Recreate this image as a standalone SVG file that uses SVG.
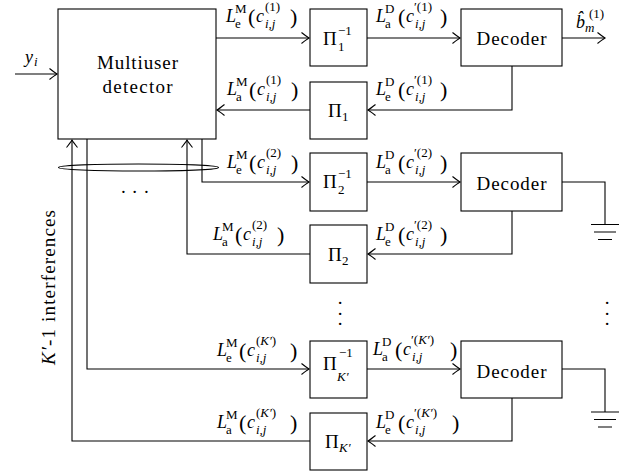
<svg xmlns="http://www.w3.org/2000/svg" width="632" height="471" viewBox="0 0 632 471">
<style>
.box{fill:#fff;stroke:#000;stroke-width:1.1}
.w{fill:none;stroke:#000;stroke-width:1.1}
.a{marker-end:url(#ah)}
.t{font-family:"Liberation Serif","Times New Roman",serif;fill:#000;font-size:18px}
.it{font-style:italic}
.s{font-size:13px}
.p{font-size:22px}
.big{font-size:19px}
.pi{font-size:19px}
</style>
<defs>
<marker id="ah" markerUnits="userSpaceOnUse" viewBox="-9 -7 10 14" markerWidth="10" markerHeight="14" refX="0" refY="0" orient="auto" overflow="visible">
<path d="M-7.5,-5.5 Q-2.5,-1.5 0,0 Q-2.5,1.5 -7.5,5.5" fill="none" stroke="#000" stroke-width="1.1"/>
</marker>
</defs>
<rect width="632" height="471" fill="#fff"/>

<g id="connectors">
<path class="w a" d="M15,74 H57"/>
<path class="w a" d="M216,38 H309"/>
<path class="w a" d="M367,38 H460"/>
<path class="w a" d="M562,38 H605"/>
<path class="w a" d="M512,66 V110 H368"/>
<path class="w a" d="M310,110 H217"/>
<path class="w a" d="M202,139 V182 H309"/>
<path class="w a" d="M367,182 H460"/>
<path class="w" d="M562,182 H605 V224.5"/>
<path class="w a" d="M512,211 V254 H368"/>
<path class="w a" d="M310,254 H187 V140"/>
<path class="w a" d="M87,139 V369 H309"/>
<path class="w a" d="M367,369 H460"/>
<path class="w" d="M562,369 H605 V412"/>
<path class="w a" d="M512,398 V441 H368"/>
<path class="w a" d="M310,441 H72 V140"/>
<ellipse class="w" cx="138.5" cy="167.5" rx="80" ry="3.5"/>
<path class="w" d="M591,224.5 H619 M594,232 H616 M598,239.5 H612"/>
<path class="w" d="M591,412 H619 M594,419.5 H616 M598,427 H612"/>
</g>

<g id="detector">
<rect class="box" x="58" y="9" width="158" height="130"/>
<text class="t big" x="137.5" y="69" text-anchor="middle" textLength="81" lengthAdjust="spacing">Multiuser</text>
<text class="t big" x="137.5" y="93" text-anchor="middle" textLength="70" lengthAdjust="spacing">detector</text>
</g>

<g id="pi1inv">
<rect class="box" x="310" y="9" width="57" height="57"/>
<text class="t"><tspan class="pi" x="323" y="45">Π</tspan><tspan class="s" x="338" y="51">1</tspan><tspan class="s" x="338" y="35">−1</tspan></text>
</g>
<g id="pi1">
<rect class="box" x="310" y="82" width="57" height="57"/>
<text class="t"><tspan class="pi" x="328" y="117">Π</tspan><tspan class="s" x="342" y="121">1</tspan></text>
</g>
<g id="dec1">
<rect class="box" x="461" y="9" width="101" height="57"/>
<text class="t big" x="511.5" y="45" text-anchor="middle" textLength="70" lengthAdjust="spacing">Decoder</text>
</g>

<g id="pi2inv">
<rect class="box" x="310" y="153" width="57" height="58"/>
<text class="t"><tspan class="pi" x="323" y="188">Π</tspan><tspan class="s" x="338" y="194">2</tspan><tspan class="s" x="338" y="178">−1</tspan></text>
</g>
<g id="pi2">
<rect class="box" x="310" y="225" width="57" height="58"/>
<text class="t"><tspan class="pi" x="328" y="261">Π</tspan><tspan class="s" x="342" y="265">2</tspan></text>
</g>
<g id="dec2">
<rect class="box" x="461" y="153" width="101" height="58"/>
<text class="t big" x="511.5" y="190" text-anchor="middle" textLength="70" lengthAdjust="spacing">Decoder</text>
</g>

<g id="piKinv">
<rect class="box" x="310" y="341" width="57" height="57"/>
<text class="t"><tspan class="pi" x="323" y="369.5">Π</tspan><tspan class="s it" x="337" y="381">K′</tspan><tspan class="s" x="339" y="357">−1</tspan></text>
</g>
<g id="piK">
<rect class="box" x="310" y="413" width="57" height="57"/>
<text class="t"><tspan class="pi" x="325" y="448">Π</tspan><tspan class="s it" x="339" y="452">K′</tspan></text>
</g>
<g id="decK">
<rect class="box" x="461" y="341" width="101" height="57"/>
<text class="t big" x="511.5" y="378" text-anchor="middle" textLength="70" lengthAdjust="spacing">Decoder</text>
</g>

<g id="labels">
<text class="t"><tspan class="it" x="25" y="63">y</tspan><tspan class="s it" x="34" y="66">i</tspan></text>
<text class="t"><tspan class="it" x="576" y="28">b̂</tspan><tspan class="s it" x="585" y="32">m</tspan><tspan class="s" x="589" y="18">(1)</tspan></text>

<text class="t"><tspan class="it" x="226" y="22">L</tspan><tspan class="s" x="235" y="28">e</tspan><tspan class="s" x="235" y="13">M</tspan><tspan class="p" x="248" y="24">(</tspan><tspan class="it" x="256" y="22">c</tspan><tspan class="s" x="265" y="11">(1)</tspan><tspan class="s it" x="265" y="28">i,j</tspan><tspan class="p" x="290" y="24">)</tspan></text>
<text class="t"><tspan class="it" x="227" y="95">L</tspan><tspan class="s" x="236" y="101">a</tspan><tspan class="s" x="236" y="86">M</tspan><tspan class="p" x="249" y="97">(</tspan><tspan class="it" x="257" y="95">c</tspan><tspan class="s" x="266" y="84">(1)</tspan><tspan class="s it" x="266" y="101">i,j</tspan><tspan class="p" x="291" y="97">)</tspan></text>
<text class="t"><tspan class="it" x="227" y="168">L</tspan><tspan class="s" x="236" y="174">e</tspan><tspan class="s" x="236" y="159">M</tspan><tspan class="p" x="249" y="170">(</tspan><tspan class="it" x="257" y="168">c</tspan><tspan class="s" x="266" y="157">(2)</tspan><tspan class="s it" x="266" y="174">i,j</tspan><tspan class="p" x="291" y="170">)</tspan></text>
<text class="t"><tspan class="it" x="213" y="240">L</tspan><tspan class="s" x="222" y="246">a</tspan><tspan class="s" x="222" y="231">M</tspan><tspan class="p" x="235" y="242">(</tspan><tspan class="it" x="243" y="240">c</tspan><tspan class="s" x="252" y="229">(2)</tspan><tspan class="s it" x="252" y="246">i,j</tspan><tspan class="p" x="277" y="242">)</tspan></text>
<text class="t"><tspan class="it" x="217" y="356">L</tspan><tspan class="s" x="226" y="362">e</tspan><tspan class="s" x="226" y="347">M</tspan><tspan class="p" x="239" y="358">(</tspan><tspan class="it" x="247" y="356">c</tspan><tspan class="s" x="256" y="345">(</tspan><tspan class="s it">K′</tspan><tspan class="s">)</tspan><tspan class="s it" x="256" y="362">i,j</tspan><tspan class="p" x="290" y="358">)</tspan></text>
<text class="t"><tspan class="it" x="217" y="428">L</tspan><tspan class="s" x="226" y="434">a</tspan><tspan class="s" x="226" y="419">M</tspan><tspan class="p" x="239" y="430">(</tspan><tspan class="it" x="247" y="428">c</tspan><tspan class="s" x="256" y="417">(</tspan><tspan class="s it">K′</tspan><tspan class="s">)</tspan><tspan class="s it" x="256" y="434">i,j</tspan><tspan class="p" x="290" y="430">)</tspan></text>

<text class="t"><tspan class="it" x="376" y="22">L</tspan><tspan class="s" x="385" y="28">a</tspan><tspan class="s" x="385" y="13">D</tspan><tspan class="p" x="398" y="24">(</tspan><tspan class="it" x="406" y="22">c</tspan><tspan class="s" x="414" y="11">′(1)</tspan><tspan class="s it" x="415" y="28">i,j</tspan><tspan class="p" x="440" y="24">)</tspan></text>
<text class="t"><tspan class="it" x="376" y="95">L</tspan><tspan class="s" x="385" y="101">e</tspan><tspan class="s" x="385" y="86">D</tspan><tspan class="p" x="398" y="97">(</tspan><tspan class="it" x="406" y="95">c</tspan><tspan class="s" x="414" y="84">′(1)</tspan><tspan class="s it" x="415" y="101">i,j</tspan><tspan class="p" x="440" y="97">)</tspan></text>
<text class="t"><tspan class="it" x="376" y="168">L</tspan><tspan class="s" x="385" y="174">a</tspan><tspan class="s" x="385" y="159">D</tspan><tspan class="p" x="398" y="170">(</tspan><tspan class="it" x="406" y="168">c</tspan><tspan class="s" x="414" y="157">′(2)</tspan><tspan class="s it" x="415" y="174">i,j</tspan><tspan class="p" x="440" y="170">)</tspan></text>
<text class="t"><tspan class="it" x="376" y="240">L</tspan><tspan class="s" x="385" y="246">e</tspan><tspan class="s" x="385" y="231">D</tspan><tspan class="p" x="398" y="242">(</tspan><tspan class="it" x="406" y="240">c</tspan><tspan class="s" x="414" y="229">′(2)</tspan><tspan class="s it" x="415" y="246">i,j</tspan><tspan class="p" x="440" y="242">)</tspan></text>
<text class="t"><tspan class="it" x="373" y="355">L</tspan><tspan class="s" x="382" y="361">a</tspan><tspan class="s" x="382" y="346">D</tspan><tspan class="p" x="395" y="357">(</tspan><tspan class="it" x="403" y="355">c</tspan><tspan class="s" x="411" y="344">′(</tspan><tspan class="s it">K′</tspan><tspan class="s">)</tspan><tspan class="s it" x="412" y="361">i,j</tspan><tspan class="p" x="450" y="357">)</tspan></text>
<text class="t"><tspan class="it" x="376" y="428">L</tspan><tspan class="s" x="385" y="434">e</tspan><tspan class="s" x="385" y="419">D</tspan><tspan class="p" x="398" y="430">(</tspan><tspan class="it" x="406" y="428">c</tspan><tspan class="s" x="414" y="417">′(</tspan><tspan class="s it">K′</tspan><tspan class="s">)</tspan><tspan class="s it" x="415" y="434">i,j</tspan><tspan class="p" x="452" y="430">)</tspan></text>

<text class="t big" transform="translate(55,365) rotate(-90)" textLength="155" lengthAdjust="spacing"><tspan class="it">K′</tspan>-1 interferences</text>

<text class="t big"><tspan x="120.3" y="197.5">·</tspan><tspan x="131.6" y="197.5">·</tspan><tspan x="143.3" y="197.5">·</tspan></text>
<text class="t big" transform="translate(333.7,300) rotate(90)"><tspan x="-0.2" y="0">·</tspan><tspan x="10.8" y="0">·</tspan><tspan x="20.8" y="0">·</tspan></text>
<text class="t big" transform="translate(600.7,300) rotate(90)"><tspan x="-0.2" y="0">·</tspan><tspan x="10.8" y="0">·</tspan><tspan x="20.8" y="0">·</tspan></text>
</g>
</svg>
